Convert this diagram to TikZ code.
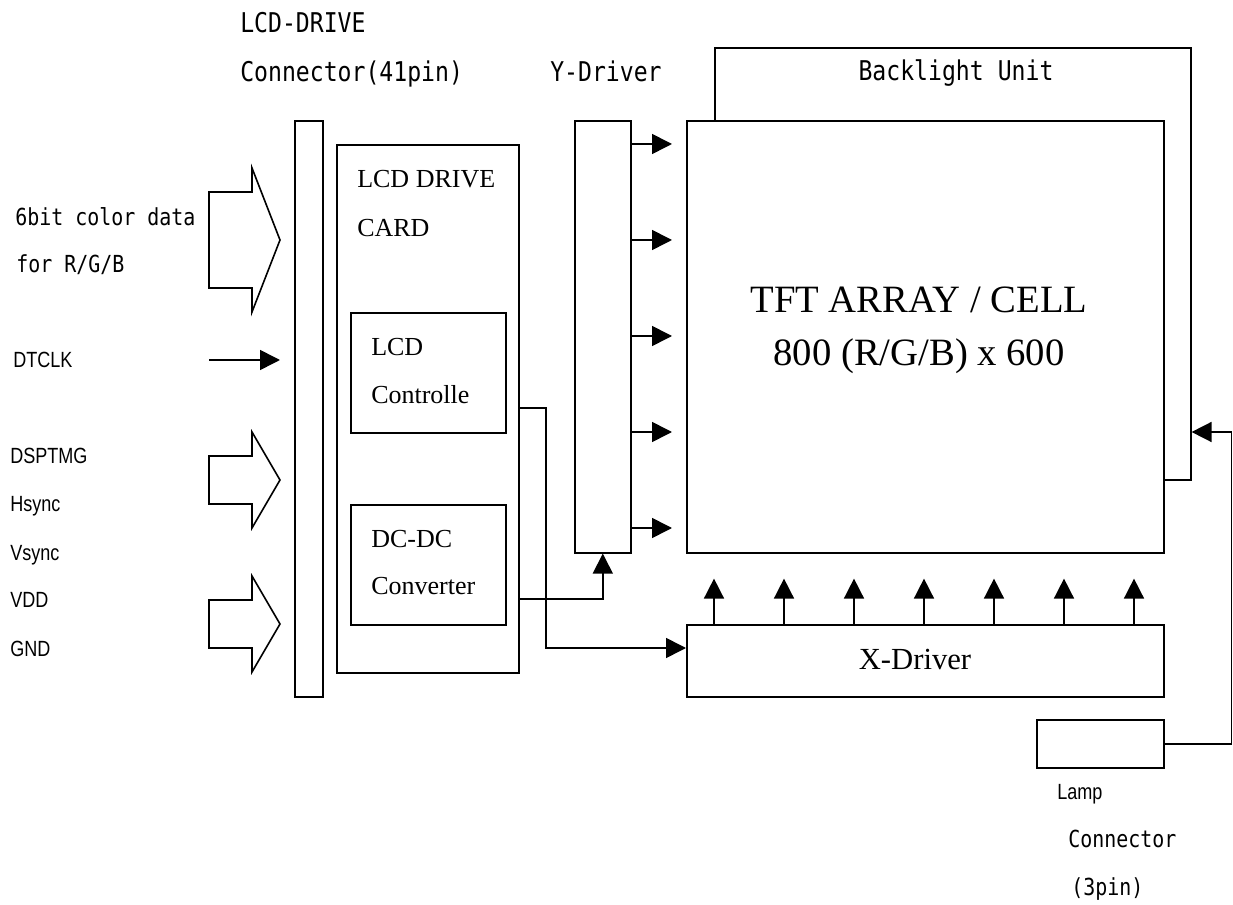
\documentclass[tikz,border=0pt]{standalone}
\usepackage{fontspec}
\setmainfont{Liberation Serif}
\newfontfamily\monof[FakeStretch=0.85]{DejaVu Sans Mono}
\newfontfamily\narrowf[FakeStretch=0.82]{Liberation Sans}
\usetikzlibrary{arrows.meta}
\begin{document}
\begin{tikzpicture}[x=0.75pt,y=-0.75pt,
  lw/.style={line width=1.2pt},
  box/.style={draw,lw,anchor=north west,inner sep=0pt,fill=white},
  arr/.style={lw,-{Triangle[length=15pt,width=15pt]}},
  blockarrow/.style={draw,lw,fill=white,line join=miter},
  serif/.style={font=\fontsize{19.5}{23}\selectfont,anchor=base west,inner sep=0pt},
  monobig/.style={font=\monof\fontsize{20.4}{24}\selectfont,anchor=base west,inner sep=0pt},
  monosmall/.style={font=\monof\fontsize{17.6}{21}\selectfont,anchor=base west,inner sep=0pt},
  narrow/.style={font=\narrowf\fontsize{16.5}{19}\selectfont,anchor=base west,inner sep=0pt}
]
\useasboundingbox (0,0) rectangle (1233,905);

% boxes
\node[box,minimum width=21pt,minimum height=432pt] (conn) at (294,120) {};
\node[box,minimum width=136.5pt,minimum height=396pt] (card) at (336,144) {};
\node[box,minimum width=116.25pt,minimum height=90pt] (ctrl) at (350,312) {};
\node[box,minimum width=116.25pt,minimum height=90pt] (dcdc) at (350,504) {};
\node[box,minimum width=42pt,minimum height=324pt] (ydrv) at (574,120) {};
\node[box,minimum width=357pt,minimum height=324pt] (backlight) at (714,47) {};
\node[box,minimum width=357.75pt,minimum height=324pt] (tft) at (686,120) {};
\node[box,minimum width=357.75pt,minimum height=54pt] (xdrv) at (686,624) {};
\node[box,minimum width=95.25pt,minimum height=36pt] (lamp) at (1036,719) {};

% texts
\node[monobig] (t1) at (240,33) {LCD-DRIVE};
\node[monobig] (t2) at (240,82) {Connector(41pin)};
\node[monobig] (t3) at (550,82) {Y-Driver};
\node[monobig,anchor=base] (t4) at (956,81) {Backlight Unit};
\node[monosmall] (t5) at (15,226) {6bit color data};
\node[monosmall] (t6) at (16,273) {for R/G/B};
\node[narrow] (t7) at (13,368) {DTCLK};
\node[narrow] (t8) at (10,464) {DSPTMG};
\node[narrow] (t9) at (10,512) {Hsync};
\node[narrow] (t10) at (10,561) {Vsync};
\node[narrow] (t11) at (10,608) {VDD};
\node[narrow] (t12) at (10,657) {GND};
\node[serif] (t13) at (357,188) {LCD DRIVE};
\node[serif] (t14) at (357,237) {CARD};
\node[serif] (t15) at (371,356) {LCD};
\node[serif] (t16) at (371,404) {Controlle};
\node[serif] (t17) at (371,548) {DC-DC};
\node[serif] (t18) at (371,595) {Converter};
\node[anchor=base,inner sep=0pt,font=\fontsize{29}{34}\selectfont] (t19) at (919,313) {TFT ARRAY / CELL};
\node[anchor=base,inner sep=0pt,font=\fontsize{29}{34}\selectfont] (t20) at (919,366) {800 (R/G/B) x 600};
\node[anchor=base,inner sep=0pt,font=\fontsize{23}{27}\selectfont] (t21) at (915,670) {X-Driver};
\node[narrow] (t22) at (1057,799) {Lamp};
\node[monosmall] (t23) at (1068,847) {Connector};
\node[monosmall] (t24) at (1071,895) {(3pin)};

% block arrows
\draw[blockarrow] (209,192) -- (252,192) -- (252,168) -- (280,240)
   -- (252,312) -- (252,288) -- (209,288) -- cycle;
\foreach \c in {480,624}{
  \draw[blockarrow] (209,\c-24) -- (252,\c-24) -- (252,\c-48) -- (280,\c)
     -- (252,\c+48) -- (252,\c+24) -- (209,\c+24) -- cycle;
}

% DTCLK arrow
\coordinate (dtin) at (209,360);
\draw[arr,shorten >=10.5pt] (dtin) -- (conn.west |- dtin);

% Y-driver arrows
\foreach \y in {144,240,336,432,528}{
  \draw[arr,shorten >=10.5pt] (ydrv.east |- 0,\y) -- (tft.west |- 0,\y);
}
% X-driver arrows
\foreach \x in {714,784,854,924,994,1064,1134}{
  \draw[arr,shorten >=18.75pt] (xdrv.north -| \x,0) -- (tft.south -| \x,0);
}

% card links
\coordinate (bend1) at (546,408);
\coordinate (xin) at (686,648);
\draw[arr] (card.east |- bend1) -- (bend1) |- (xdrv.west |- xin);
\coordinate (ylink) at (518,599);
\draw[arr] (card.east |- ylink) -| (ydrv.south);

% lamp link
\draw[arr] (lamp.east) -- ++(67,0) |- (backlight.east |- 0,432);
\end{tikzpicture}
\end{document}
